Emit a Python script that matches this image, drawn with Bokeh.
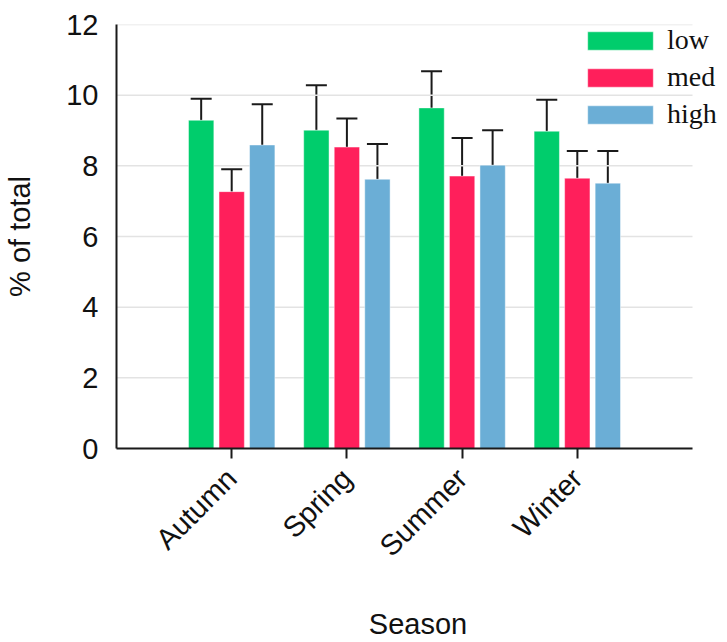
import math
from bokeh.plotting import figure
from bokeh.models import (ColumnDataSource, Range1d, FixedTicker, Whisker, TeeHead,
                          Legend, LegendItem)
from bokeh.transform import dodge
from bokeh.embed import file_html
from bokeh.resources import INLINE

seasons = ["Autumn", "Spring", "Summer", "Winter"]
groups = ["low", "med", "high"]
low_mean = [9.29, 9.01, 9.64, 8.98]
low_err = [0.61, 1.27, 1.04, 0.89]
med_mean = [7.27, 8.53, 7.71, 7.65]
med_err = [0.63, 0.81, 1.08, 0.77]
high_mean = [8.59, 7.62, 8.02, 7.51]
high_err = [1.15, 1.00, 0.99, 0.91]
colors = ["#00CD6C", "#FF1F5B", "#6BAED6"]
y_ticks = [0, 2, 4, 6, 8, 10, 12]

positions = list(range(1, len(seasons) + 1))
x_axis_end = len(seasons) + 1
means = {"low": low_mean, "med": med_mean, "high": high_mean}
errs = {"low": low_err, "med": med_err, "high": high_err}

data = {"x": positions}
for g in groups:
    data[g] = means[g]
    data[g + "_up"] = [m + e for m, e in zip(means[g], errs[g])]
src = ColumnDataSource(data)

W, H = 719, 642
left, top, bottom = 116, 24, 194
frame_w = W - left
x_end = x_axis_end * frame_w / 576.0   # plot area wider than axis so legend fits

p = figure(width=W, height=H, x_range=Range1d(0, x_end), y_range=Range1d(0, 12),
           output_backend="svg", toolbar_location=None,
           min_border_left=left, min_border_right=0, min_border_top=top,
           min_border_bottom=bottom)
p.outline_line_color = None
p.background_fill_color = "white"
p.xgrid.grid_line_color = None
p.ygrid.grid_line_color = None

# horizontal grid lines limited to the axis extent
p.segment(x0=[0] * len(y_ticks), x1=[x_axis_end] * len(y_ticks), y0=y_ticks, y1=y_ticks,
          line_color="#e3e3e3", line_width=1.5)

offsets = [-0.265, 0.0, 0.265]
items = []
for g, c, off in zip(groups, colors, offsets):
    r = p.vbar(x=dodge("x", off, range=p.x_range), top=g, bottom=0, width=0.22,
               source=src, fill_color=c, line_color="white", line_alpha=0.45,
               line_width=1)
    items.append(LegendItem(label=g, renderers=[r]))
    w = Whisker(base=dodge("x", off, range=p.x_range), lower=g, upper=g + "_up",
                source=src, dimension="height", line_color="#1a1a1a", line_width=2,
                upper_head=TeeHead(size=21, line_color="#1a1a1a", line_width=2),
                lower_head=None)
    p.add_layout(w)

legend = Legend(items=items, location=(463, 318), orientation="vertical",
                glyph_width=82, glyph_height=23, label_standoff=6, spacing=5,
                padding=0, margin=0, border_line_color=None,
                background_fill_alpha=0, label_text_font="Liberation Serif",
                label_text_font_size="28px", label_text_color="#111111")
p.add_layout(legend, "center")

for ax in (p.xaxis[0], p.yaxis[0]):
    ax.axis_line_color = "#1a1a1a"
    ax.axis_line_width = 2
    ax.major_tick_line_color = "#1a1a1a"
    ax.major_tick_line_width = 2
    ax.minor_tick_line_color = None
    ax.major_label_text_font = "Liberation Sans"
    ax.major_label_text_font_size = "29px"
    ax.major_label_text_color = "#111111"
    ax.axis_label_text_font = "Liberation Sans"
    ax.axis_label_text_font_size = "29px"
    ax.axis_label_text_font_style = "normal"
    ax.axis_label_text_color = "#111111"

p.xaxis.bounds = (0, x_axis_end)
p.xaxis.ticker = FixedTicker(ticks=positions)
p.xaxis.major_label_overrides = {pos: s for pos, s in zip(positions, seasons)}
p.xaxis.major_label_orientation = math.pi / 4
p.xaxis.major_tick_out = 10
p.xaxis.major_tick_in = 0
p.xaxis.major_label_standoff = 15
p.xaxis.axis_label = "Season"
p.xaxis.axis_label_standoff = 31

p.yaxis.ticker = FixedTicker(ticks=y_ticks)
p.yaxis.major_tick_out = 0
p.yaxis.major_tick_in = 0
p.yaxis.major_label_standoff = 18
p.yaxis.axis_label = "% of total"
p.yaxis.axis_label_standoff = 27

open("out.html", "w").write(file_html(p, INLINE))
